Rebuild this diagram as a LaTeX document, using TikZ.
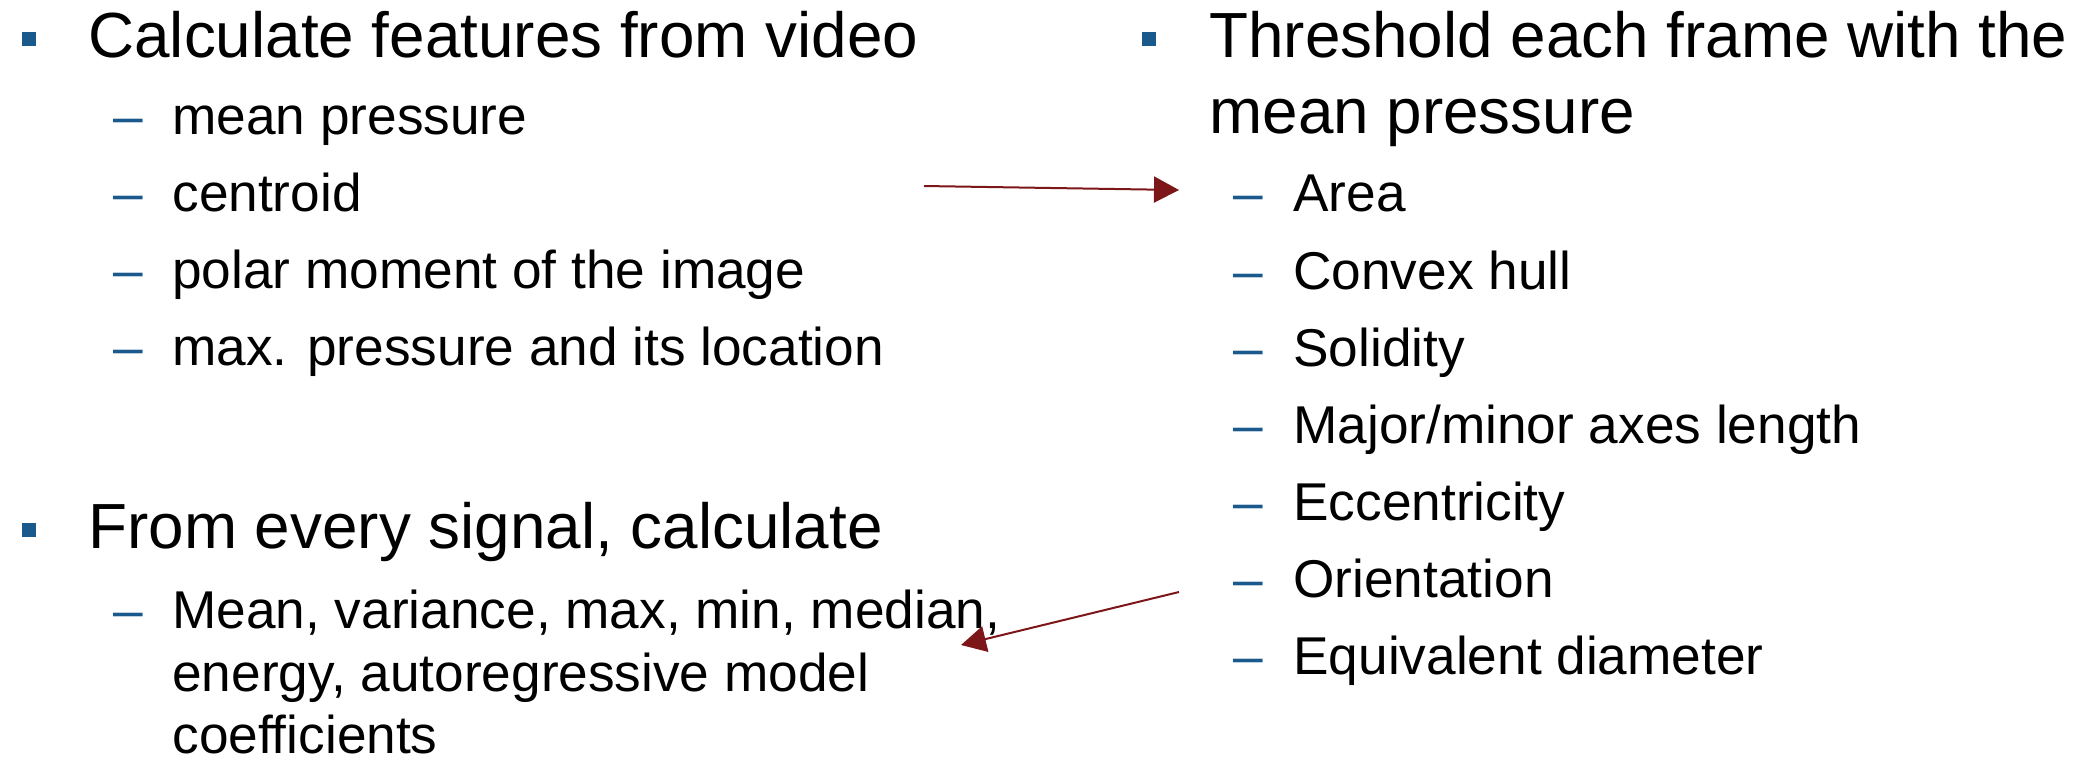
\documentclass[tikz,border=0pt]{standalone}
\usepackage{fontspec}
\setmainfont{Liberation Sans}
\usetikzlibrary{arrows.meta}
\definecolor{bulletblue}{RGB}{25,89,140}
\definecolor{arrowred}{RGB}{124,22,24}
\begin{document}
\begin{tikzpicture}[x=0.5pt,y=-0.5pt,
  toptext/.style={anchor=base west,inner sep=0pt,font=\fontsize{31.9}{38}\selectfont},
  subtext/.style={anchor=base west,inner sep=0pt,font=\fontsize{26.6}{32}\selectfont},
  dashmark/.style={anchor=base west,inner sep=0pt,text=bulletblue,font=\fontsize{26.6}{32}\selectfont},
  conn/.style={draw=arrowred,line width=1pt,-{Triangle[length=12.5pt,width=13pt]}}]
\useasboundingbox (0,0) rectangle (2085,757);

% ---------- left column ----------
\fill[bulletblue] (22,32) rectangle (36,46);
\node[toptext] (l1) at (88,57) {Calculate features from video};
\node[dashmark] (ld1) at (113,134) {–};
\node[subtext] (ls1) at (172,134) {mean pressure};
\node[dashmark] (ld2) at (113,211) {–};
\node[subtext] (ls2) at (172,211) {centroid};
\node[dashmark] (ld3) at (113,288) {–};
\node[subtext] (ls3) at (172,288) {polar moment of the image};
\node[dashmark] (ld4) at (113,365) {–};
\node[subtext] (ls4) at (172,365) {max. pressure and its location};

\fill[bulletblue] (22,523) rectangle (36,537);
\node[toptext] (l2) at (88,548) {From every signal, calculate};
\node[dashmark] (ld5) at (113,628) {–};
\node[subtext] (ls5a) at (172,628) {Mean, variance, max, min, median,};
\node[subtext] (ls5b) at (172,691) {energy, autoregressive model};
\node[subtext] (ls5c) at (172,753) {coefficients};

% ---------- right column ----------
\fill[bulletblue] (1142,32) rectangle (1156,46);
\node[toptext] (r1a) at (1209,57) {Threshold each frame with the};
\node[toptext] (r1b) at (1209,133) {mean pressure};
\node[dashmark] (rd1) at (1233,211) {–};
\node[subtext] (rs1) at (1293,211) {Area};
\node[dashmark] (rd2) at (1233,289) {–};
\node[subtext] (rs2) at (1293,289) {Convex hull};
\node[dashmark] (rd3) at (1233,366) {–};
\node[subtext] (rs3) at (1293,366) {Solidity};
\node[dashmark] (rd4) at (1233,443) {–};
\node[subtext] (rs4) at (1293,443) {Major/minor axes length};
\node[dashmark] (rd5) at (1233,520) {–};
\node[subtext] (rs5) at (1293,520) {Eccentricity};
\node[dashmark] (rd6) at (1233,597) {–};
\node[subtext] (rs6) at (1293,597) {Orientation};
\node[dashmark] (rd7) at (1233,674) {–};
\node[subtext] (rs7) at (1293,674) {Equivalent diameter};

% ---------- connectors ----------
\coordinate (a1s) at (924,186);
\coordinate (a1e) at (1179,190);
\coordinate (a2s) at (1179,592);
\coordinate (a2e) at (961,645);
\draw[conn] (a1s) -- (a1e);
\draw[conn] (a2s) -- (a2e);
\end{tikzpicture}
\end{document}
